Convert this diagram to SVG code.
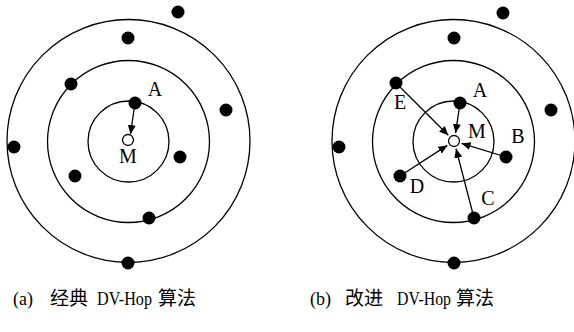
<svg xmlns="http://www.w3.org/2000/svg" width="574" height="332" viewBox="0 0 574 332">
<defs>
<style>
.ring{fill:none;stroke:#000;stroke-width:1.3}
.dot{fill:#000}
.open{fill:#fff;stroke:#000;stroke-width:1.3}
.lbl{font-family:"Liberation Serif","Times New Roman",serif;font-size:20px;fill:#000;text-anchor:middle}
.cap{font-family:"Liberation Serif","Noto Sans CJK SC",serif;font-size:18px;fill:#000}
.cjk{font-size:19px}
.edge{stroke:#000;stroke-width:1.3;fill:none;marker-end:url(#ah)}
</style>
<marker id="ah" markerUnits="userSpaceOnUse" markerWidth="10" markerHeight="8" refX="9" refY="4" orient="auto">
<path d="M0,0 L9,4 L0,8 Z" fill="#000"/>
</marker>
</defs>
<rect width="574" height="332" fill="#fff"/>

<!-- Left diagram (a) -->
<g id="rings-a">
<circle class="ring" cx="128.5" cy="141" r="121.5"/>
<circle class="ring" cx="128.5" cy="141.5" r="81"/>
<circle class="ring" cx="128.5" cy="141.5" r="40.5"/>
</g>
<g id="connectors-a">
<line class="edge" x1="135" y1="103" x2="130.5" y2="134"/>
</g>
<g id="a-n1"><circle class="dot" cx="178" cy="12" r="6.5"/></g>
<g id="a-n2"><circle class="dot" cx="128" cy="38" r="6.5"/></g>
<g id="a-n3"><circle class="dot" cx="71" cy="84" r="6.5"/></g>
<g id="a-A"><circle class="dot" cx="135" cy="103" r="6.5"/><text class="lbl" x="155" y="96">A</text></g>
<g id="a-n5"><circle class="dot" cx="226" cy="110" r="6.5"/></g>
<g id="a-n6"><circle class="dot" cx="14" cy="147" r="6.5"/></g>
<g id="a-n7"><circle class="dot" cx="180" cy="157" r="6.5"/></g>
<g id="a-n8"><circle class="dot" cx="75" cy="176" r="6.5"/></g>
<g id="a-n9"><circle class="dot" cx="149" cy="218" r="6.5"/></g>
<g id="a-n10"><circle class="dot" cx="128" cy="263" r="6.5"/></g>
<g id="a-M"><circle class="open" cx="128" cy="140" r="5.5"/><text class="lbl" x="128" y="163">M</text></g>

<!-- Right diagram (b) -->
<g id="rings-b">
<circle class="ring" cx="453.5" cy="141" r="121.5"/>
<circle class="ring" cx="453.5" cy="141.5" r="81"/>
<circle class="ring" cx="453.5" cy="141.5" r="40.5"/>
</g>
<g id="connectors-b">
<line class="edge" x1="396" y1="83" x2="448.3" y2="135.3"/>
<line class="edge" x1="460" y1="103" x2="455.6" y2="133"/>
<line class="edge" x1="506" y1="157" x2="461.6" y2="143.4"/>
<line class="edge" x1="474" y1="218" x2="456" y2="148.7"/>
<line class="edge" x1="400" y1="176" x2="447.3" y2="145.4"/>
</g>
<g id="b-n1"><circle class="dot" cx="503" cy="13" r="6.5"/></g>
<g id="b-n2"><circle class="dot" cx="454" cy="38" r="6.5"/></g>
<g id="b-E"><circle class="dot" cx="396" cy="83" r="6.5"/><text class="lbl" x="400" y="109">E</text></g>
<g id="b-A"><circle class="dot" cx="460" cy="103" r="6.5"/><text class="lbl" x="480" y="97">A</text></g>
<g id="b-n5"><circle class="dot" cx="551" cy="110" r="6.5"/></g>
<g id="b-n6"><circle class="dot" cx="339" cy="147" r="6.5"/></g>
<g id="b-B"><circle class="dot" cx="506" cy="157" r="6.5"/><text class="lbl" x="518" y="143">B</text></g>
<g id="b-D"><circle class="dot" cx="400" cy="176" r="6.5"/><text class="lbl" x="417" y="193">D</text></g>
<g id="b-C"><circle class="dot" cx="474" cy="218" r="6.5"/><text class="lbl" x="488" y="205">C</text></g>
<g id="b-n10"><circle class="dot" cx="454" cy="263" r="6.5"/></g>
<g id="b-M"><circle class="open" cx="454" cy="141" r="5.5"/><text class="lbl" x="477" y="138">M</text></g>

<!-- Captions -->
<g id="caption-a">
<text class="cap" x="13" y="305">(a)</text>
<text class="cap cjk" x="50" y="305">经典</text>
<text class="cap" x="97" y="305" textLength="55" lengthAdjust="spacingAndGlyphs">DV-Hop</text>
<text class="cap cjk" x="158" y="305">算法</text>
</g>
<g id="caption-b">
<text class="cap" x="310" y="305">(b)</text>
<text class="cap cjk" x="345" y="305">改进</text>
<text class="cap" x="397" y="305" textLength="54" lengthAdjust="spacingAndGlyphs">DV-Hop</text>
<text class="cap cjk" x="456" y="305">算法</text>
</g>
</svg>
